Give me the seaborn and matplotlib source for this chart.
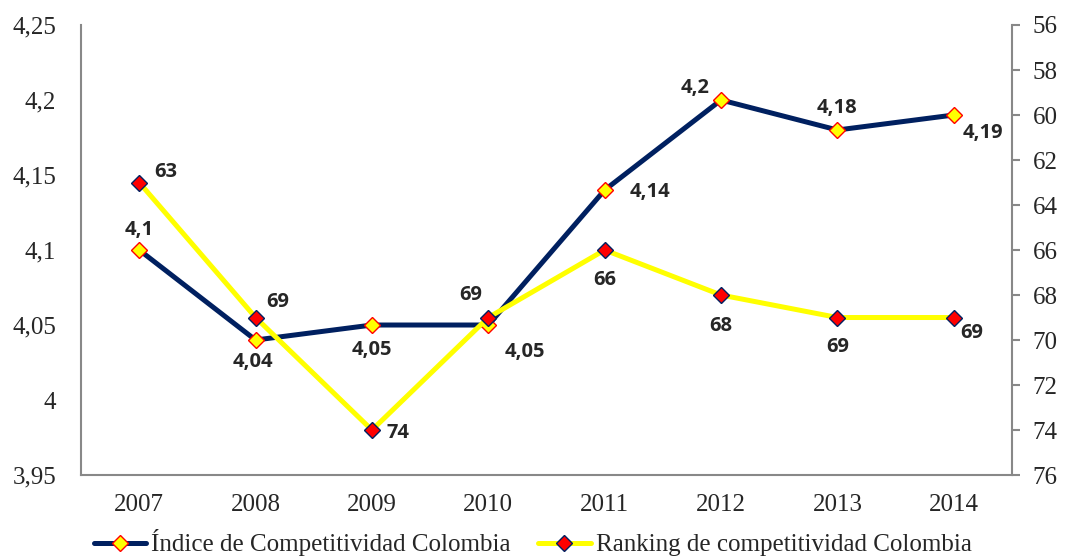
import matplotlib
matplotlib.use("Agg")
import matplotlib.pyplot as plt
import pandas as pd
import seaborn as sns

# Data
years = ["2007", "2008", "2009", "2010", "2011", "2012", "2013", "2014"]
indice = [4.10, 4.04, 4.05, 4.05, 4.14, 4.20, 4.18, 4.19]
ranking = [63, 69, 74, 69, 66, 68, 69, 69]
left_ticks = [3.95, 4.0, 4.05, 4.1, 4.15, 4.2, 4.25]
left_tick_labels = ["3,95", "4", "4,05", "4,1", "4,15", "4,2", "4,25"]
right_ticks = [56, 58, 60, 62, 64, 66, 68, 70, 72, 74, 76]

# Label offsets in pixels (dx, dy) relative to each marker
indice_offsets = [(0, 20), (-3, -22), (0, -25), (37, -27), (45, -2), (-26, 12), (0, 22), (29, -18)]
ranking_offsets = [(27, 11), (22, 16), (26, -3), (-18, 23), (0, -30), (0, -31), (0, -29), (18, -15)]

df = pd.DataFrame({"year": years, "indice": indice, "ranking": ranking})

sns.set_style("white")
plt.rcParams["font.family"] = ["Liberation Serif", "DejaVu Serif"]

navy = "#002060"
yellow = "#FFFF00"
red = "#FF0000"
spine_color = "#888888"

fig = plt.figure(figsize=(10.65, 5.58), dpi=100)
ax = fig.add_axes([0.0761, 0.1487, 0.9502 - 0.0761, 0.9552 - 0.1487])

sns.lineplot(data=df, x="year", y="indice", ax=ax, color=navy, linewidth=3.6,
             marker="D", markersize=8, markerfacecolor=yellow,
             markeredgecolor=red, markeredgewidth=1.0, sort=False,
             label="Índice de Competitividad Colombia", legend=False)
ax.set_xlim(-0.5, len(years) - 0.5)
ax.set_ylim(3.95, 4.25)
ax.set_yticks(left_ticks)
ax.set_yticklabels(left_tick_labels)
ax.set_xlabel("")
ax.set_ylabel("")
ax.tick_params(axis="both", labelsize=18, length=0)
ax.tick_params(axis="x", pad=14)
ax.tick_params(axis="y", pad=18)

ax2 = ax.twinx()
sns.lineplot(data=df, x="year", y="ranking", ax=ax2, color=yellow, linewidth=3.6,
             marker="D", markersize=8, markerfacecolor=red,
             markeredgecolor=navy, markeredgewidth=1.0, sort=False,
             label="Ranking de competitividad Colombia", legend=False)
ax2.set_ylim(76, 56)
ax2.set_yticks(right_ticks)
ax2.set_ylabel("")
ax2.tick_params(axis="y", labelsize=18, length=6, width=1.5, color=spine_color, pad=9)

for a in (ax, ax2):
    for side in ("left", "right", "bottom"):
        a.spines[side].set_color(spine_color)
        a.spines[side].set_linewidth(1.5)
    a.spines["top"].set_visible(False)
ax.spines["right"].set_visible(False)
ax2.spines["left"].set_visible(False)
ax2.spines["bottom"].set_visible(False)

label_font = dict(family=["Open Sans", "DejaVu Sans"], fontweight="bold", fontsize=14.5)
for i, (val, off) in enumerate(zip(indice, indice_offsets)):
    txt = f"{val:g}".replace(".", ",")
    ax.annotate(txt, (i, val), xytext=off, textcoords="offset pixels",
                ha="center", va="center", **label_font)
for i, (val, off) in enumerate(zip(ranking, ranking_offsets)):
    ax2.annotate(str(val), (i, val), xytext=off, textcoords="offset pixels",
                 ha="center", va="center", **label_font)

h1, l1 = ax.get_legend_handles_labels()
h2, l2 = ax2.get_legend_handles_labels()
fig.legend(h1 + h2, l1 + l2, loc="center", bbox_to_anchor=(0.5, 0.027), ncol=2,
           frameon=False, fontsize=18, handlelength=2.1, handletextpad=0.2,
           columnspacing=1.1)

fig.savefig("out.png", dpi=100)
plt.close(fig)
